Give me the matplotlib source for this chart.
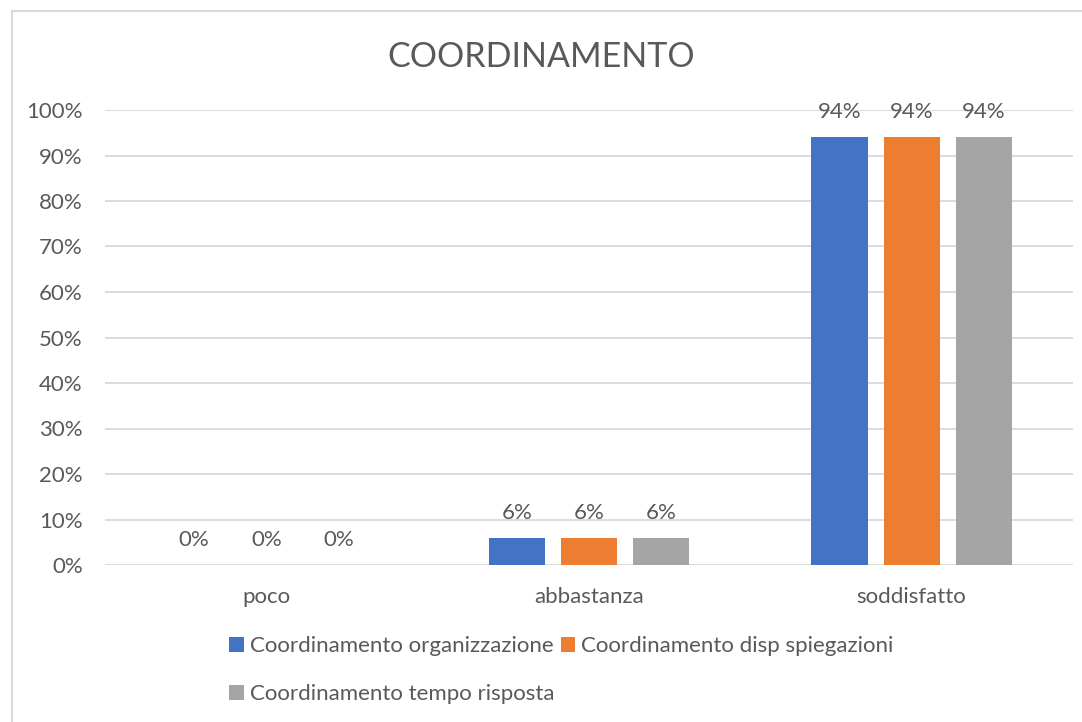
import matplotlib.pyplot as plt
from matplotlib.patches import Rectangle
import numpy as np

# data
categories = ['poco', 'abbastanza', 'soddisfatto']
series_names = ['Coordinamento organizzazione', 'Coordinamento disp spiegazioni',
                'Coordinamento tempo risposta']
organizzazione = [0.0, 0.06, 0.94]
spiegazioni = [0.0, 0.06, 0.94]
tempo_risposta = [0.0, 0.06, 0.94]
colors = ['#4472C4', '#ED7D31', '#A5A5A5']

plt.rcParams['font.family'] = ['Lato', 'DejaVu Sans']
txt = '#595959'

fig = plt.figure(figsize=(10.82, 7.22), dpi=100)
ax = fig.add_axes([105/1082, 157/722, 968/1082, 455/722])

# outer chart border
fig.patches.append(Rectangle((12/1082, -0.01), 1.1, (722-11)/722 + 0.01,
                             transform=fig.transFigure, fill=False,
                             edgecolor='#d9d9d9', linewidth=1.5))

x = np.arange(len(categories))
w = 56/322
step = 72/322
bars = []
for i, (vals, name) in enumerate(zip([organizzazione, spiegazioni, tempo_risposta], series_names)):
    b = ax.bar(x + (i-1)*step, vals, width=w, color=colors[i], label=name, zorder=3)
    bars.append(b)
    for xi, v in zip(x + (i-1)*step, vals):
        ax.annotate(f'{v*100:.0f}%', (xi, v), xytext=(0, 18), textcoords='offset points',
                    ha='center', va='center', fontsize=16, color=txt)

ax.set_xlim(-0.5, 2.5)
ax.set_ylim(0, 1)
ax.set_yticks(np.arange(0, 1.01, 0.1))
ax.set_yticklabels([f'{int(round(t*100))}%' for t in np.arange(0, 1.01, 0.1)])
ax.set_xticks(x)
ax.set_xticklabels(categories)
ax.tick_params(axis='both', length=0, labelsize=16, colors=txt)
ax.tick_params(axis='y', pad=16)
ax.tick_params(axis='x', pad=16)
ax.yaxis.grid(True, color='#d9d9d9', linewidth=1.3, zorder=0)
ax.set_axisbelow(True)
for s in ax.spines.values():
    s.set_visible(False)

fig.text(0.5, 1 - 57/722, 'COORDINAMENTO', ha='center', va='center',
         fontsize=24.5, color=txt)

handles = [bars[0], bars[2], bars[1]]
labels = [series_names[0], series_names[2], series_names[1]]
fig.legend(handles, labels, ncol=2, loc='upper left',
           bbox_to_anchor=(218/1082, 1 - 625/722), frameon=False,
           fontsize=16, labelcolor=txt, handlelength=0.65, handleheight=0.65,
           handletextpad=0.27, columnspacing=0.3, labelspacing=1.25, borderpad=0)

plt.savefig('out.png', dpi=100)
